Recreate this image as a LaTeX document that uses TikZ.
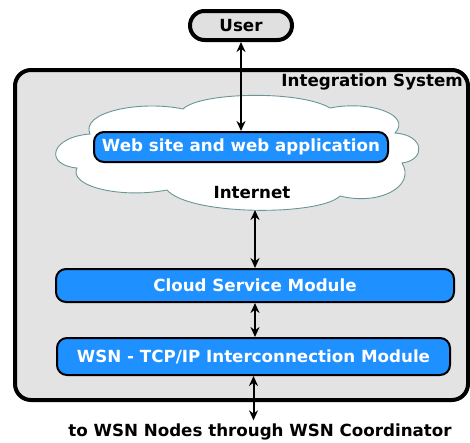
\documentclass[tikz,border=0pt]{standalone}
\usepackage{fontspec}
\setmainfont{DejaVu Sans}
\usetikzlibrary{arrows.meta}
\definecolor{modblue}{HTML}{1E90FF}
\definecolor{panelgray}{HTML}{E3E3E3}
\definecolor{usergray}{HTML}{E0E0E0}
\definecolor{cloudedge}{HTML}{6A9595}

\begin{document}
\begin{tikzpicture}[x=1pt,y=-1pt,
  labelfont/.style={font=\bfseries\fontsize{16.7}{20}\selectfont},
  module/.style={draw=black, line width=2pt, fill=modblue, rounded corners=10pt,
    text=white, labelfont, inner sep=0pt},
  link/.style={line width=2pt, {Stealth[length=10pt,width=9pt]}-{Stealth[length=10pt,width=9pt]}}]
\useasboundingbox (0,0) rectangle (470,442);

% integration system panel
\draw[line width=4pt, fill=panelgray, rounded corners=16pt] (15,70) rectangle (468,400);
\node[labelfont, anchor=east, inner sep=0pt] (sys) at (463,82) {Integration System};

% internet cloud
\draw[cloudedge, line width=0.9pt, fill=white]
  (90,134)
  .. controls (80,112) and (140,100) .. (183,109)
  .. controls (200,92) and (300,90) .. (330,108)
  .. controls (370,100) and (412,115) .. (395,133)
  .. controls (425,135) and (426,160) .. (402,163)
  .. controls (416,186) and (380,206) .. (340,196)
  .. controls (320,216) and (190,216) .. (167,190)
  .. controls (120,199) and (68,186) .. (77,168)
  .. controls (44,165) and (50,137) .. (90,134)
  -- cycle;
\coordinate (cloudbottom) at (255,210);
\node[labelfont] (internet) at (252,193) {Internet};

% user
\node[draw=black, line width=4pt, fill=usergray, rounded corners=14.5pt,
  minimum width=102pt, minimum height=29pt, inner sep=0pt, labelfont]
  (user) at (241,25.5) {User};

% modules
\node[module, minimum width=294pt, minimum height=30pt] (web) at (241,147)
  {Web site and web application};
\node[module, minimum width=398pt, minimum height=33pt] (csm) at (255,285.5)
  {Cloud Service Module};
\node[module, minimum width=393pt, minimum height=37pt] (wsn) at (253.5,356.5)
  {WSN - TCP/IP Interconnection Module};

\node[labelfont] (dest) at (260,432) {to WSN Nodes through WSN Coordinator};

% connections
\draw[link] (user.south) -- (web.north);
\draw[link] (cloudbottom) -- (cloudbottom |- csm.north);
\draw[link] (csm.south) -- (csm.south |- wsn.north);
\draw[link] (wsn.south) -- (wsn.south |- dest.north);
\end{tikzpicture}
\end{document}
